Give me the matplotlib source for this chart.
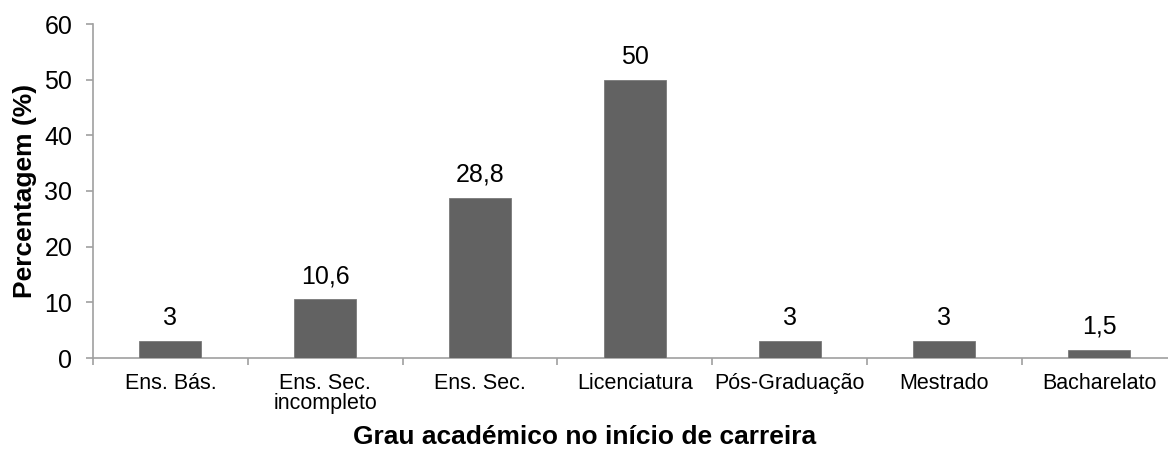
import matplotlib
matplotlib.use("Agg")
import matplotlib.pyplot as plt
import numpy as np
from matplotlib.ticker import FixedLocator

categories = ["Ens. Bás.", "Ens. Sec.\nincompleto", "Ens. Sec.", "Licenciatura",
              "Pós-Graduação", "Mestrado", "Bacharelato"]
values = [3, 10.6, 28.8, 50, 3, 3, 1.5]
value_labels = ["3", "10,6", "28,8", "50", "3", "3", "1,5"]
yticks = [0, 10, 20, 30, 40, 50, 60]

plt.rcParams['font.family'] = ['Liberation Sans', 'DejaVu Sans']

fig = plt.figure(figsize=(11.68, 4.63), dpi=100)
ax = fig.add_axes([93/1168, 105/463, 7*154.8/1168, 334/463])

x = np.arange(len(categories))
ax.bar(x, values, width=0.4, color="#626262", edgecolor="#7a7a7a", linewidth=0.6, zorder=3)
ax.set_xlim(-0.5, len(categories) - 0.5)
ax.set_ylim(0, 60)
ax.set_yticks(yticks)
ax.set_yticklabels([str(t) for t in yticks], fontsize=18)

ax.set_xticks(x)
ax.set_xticklabels(categories, fontsize=15.5, linespacing=0.95)
ax.tick_params(axis='x', which='major', length=0, pad=11)
ax.xaxis.set_minor_locator(FixedLocator(np.arange(-0.5, len(categories), 1.0)))
ax.tick_params(axis='x', which='minor', length=5, color="#a0a0a0", width=1.2)
ax.tick_params(axis='y', length=5, color="#a0a0a0", width=1.2, pad=10)

for s in ['top', 'right']:
    ax.spines[s].set_visible(False)
for s in ['left', 'bottom']:
    ax.spines[s].set_color("#a0a0a0")
    ax.spines[s].set_linewidth(1.2)

for xi, v, lab in zip(x, values, value_labels):
    ax.annotate(lab, (xi, v), xytext=(0, 11.5), textcoords="offset points",
                ha="center", va="baseline", fontsize=18)

ax.yaxis.set_label_coords(-68/1083.6, 0.5)
ax.set_ylabel("Percentagem (%)", fontsize=19, fontweight="bold", va="center")
fig.text(585/1168, 1 - 437/463, "Grau académico no início de carreira",
         ha="center", va="center", fontsize=19, fontweight="bold")

fig.savefig("out.png", dpi=100)
